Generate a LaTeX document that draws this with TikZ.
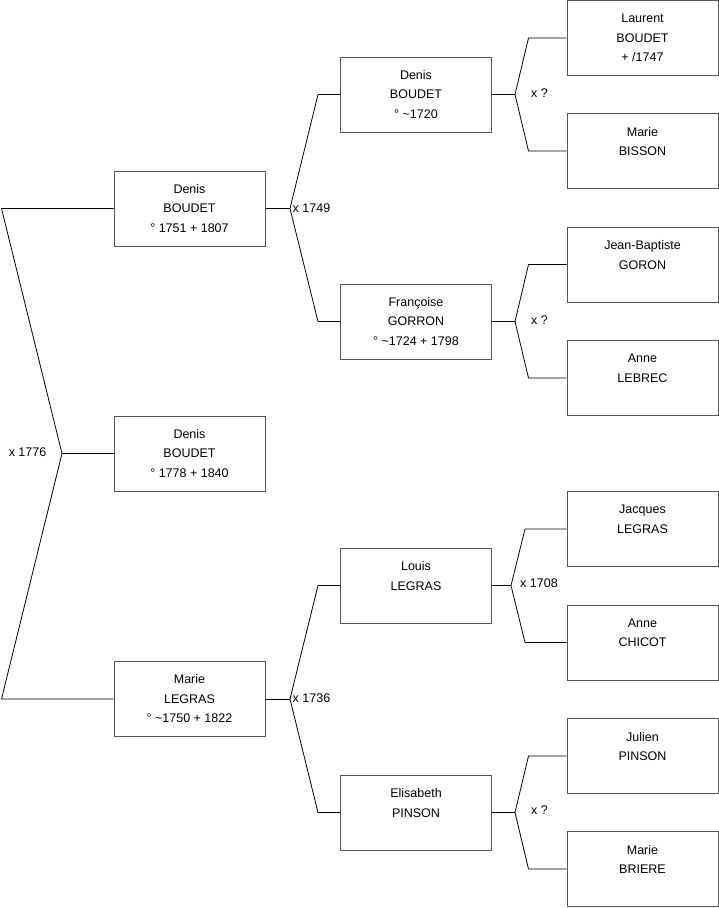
\documentclass[tikz,border=0pt]{standalone}
\usepackage{fontspec}
\setmainfont{Liberation Sans}
\definecolor{boxgray}{RGB}{85,85,85}
\begin{document}
\begin{tikzpicture}[x=1pt,y=-1pt,
  box/.style={draw=boxgray, line width=1pt, minimum width=151pt, minimum height=75pt,
    align=center, inner sep=0pt, font=\fontsize{12.5}{19.5}\selectfont},
  conn/.style={draw=black, line width=0.8pt},
  lab/.style={inner sep=0pt, font=\fontsize{12.5}{15}\selectfont}]
\useasboundingbox (0,0) rectangle (719,908);
% column 1
\node[box] (a1) at (189.5,208.5) {Denis\\BOUDET\\° 1751 + 1807};
\node[box] (a2) at (189.5,453.5) {Denis\\BOUDET\\° 1778 + 1840};
\node[box] (a3) at (189.5,699) {Marie\\LEGRAS\\° \textasciitilde1750 + 1822};
% column 2
\node[box] (b1) at (416,94.5) {Denis\\BOUDET\\° \textasciitilde1720};
\node[box] (b2) at (416,321.5) {Françoise\\GORRON\\° \textasciitilde1724 + 1798};
\node[box] (b3) at (416,585.5) {Louis\\LEGRAS\\\phantom{X}};
\node[box] (b4) at (416,812.5) {Elisabeth\\PINSON\\\phantom{X}};
% column 3
\node[box] (c1) at (642.5,38) {Laurent\\BOUDET\\+ /1747};
\node[box] (c2) at (642.5,151) {Marie\\BISSON\\\phantom{X}};
\node[box] (c3) at (642.5,264.5) {Jean-Baptiste\\GORON\\\phantom{X}};
\node[box] (c4) at (642.5,378) {Anne\\LEBREC\\\phantom{X}};
\node[box] (c5) at (642.5,529) {Jacques\\LEGRAS\\\phantom{X}};
\node[box] (c6) at (642.5,642.5) {Anne\\CHICOT\\\phantom{X}};
\node[box] (c7) at (642.5,756) {Julien\\PINSON\\\phantom{X}};
\node[box] (c8) at (642.5,869) {Marie\\BRIERE\\\phantom{X}};
% outer family
\coordinate (v0) at (62,453.5);
\coordinate (t0) at (1.5,208.5);
\coordinate (d0) at (1.5,699);
\draw[conn] (a1.west) -- (t0) -- (v0) -- (d0) -- (a3.west);
\draw[conn] (v0) -- (a2.west);
\node[lab, anchor=east] (l0) at (46.5,452) {x 1776};
% family of a1
\coordinate (v1) at (290,208.5);
\coordinate (t1) at (318,94.5);
\coordinate (d1) at (318,321.5);
\draw[conn] (a1.east) -- (v1);
\draw[conn] (b1.west) -- (t1) -- (v1) -- (d1) -- (b2.west);
\node[lab, anchor=west] (l1) at (292.5,208) {x 1749};
% family of a3
\coordinate (v2) at (290,699);
\coordinate (t2) at (318,585.5);
\coordinate (d2) at (318,812.5);
\draw[conn] (a3.east) -- (v2);
\draw[conn] (b3.west) -- (t2) -- (v2) -- (d2) -- (b4.west);
\node[lab, anchor=west] (l2) at (292.5,698) {x 1736};
% family of b1
\coordinate (v3) at (515,94.5);
\coordinate (t3) at (528.5,38);
\coordinate (d3) at (528.5,151);
\draw[conn] (b1.east) -- (v3);
\draw[conn] (c1.west) -- (t3) -- (v3) -- (d3) -- (c2.west);
\node[lab, anchor=west] (l3) at (531,93) {x ?};
% family of b2
\coordinate (v4) at (515,321.5);
\coordinate (t4) at (528.5,264.5);
\coordinate (d4) at (528.5,378);
\draw[conn] (b2.east) -- (v4);
\draw[conn] (c3.west) -- (t4) -- (v4) -- (d4) -- (c4.west);
\node[lab, anchor=west] (l4) at (531,320) {x ?};
% family of b3
\coordinate (v5) at (511,585.5);
\coordinate (t5) at (525,529);
\coordinate (d5) at (525,642.5);
\draw[conn] (b3.east) -- (v5);
\draw[conn] (c5.west) -- (t5) -- (v5) -- (d5) -- (c6.west);
\node[lab, anchor=west] (l5) at (520,583) {x 1708};
% family of b4
\coordinate (v6) at (515,812.5);
\coordinate (t6) at (528.5,756);
\coordinate (d6) at (528.5,869);
\draw[conn] (b4.east) -- (v6);
\draw[conn] (c7.west) -- (t6) -- (v6) -- (d6) -- (c8.west);
\node[lab, anchor=west] (l6) at (531,810) {x ?};
\end{tikzpicture}
\end{document}
